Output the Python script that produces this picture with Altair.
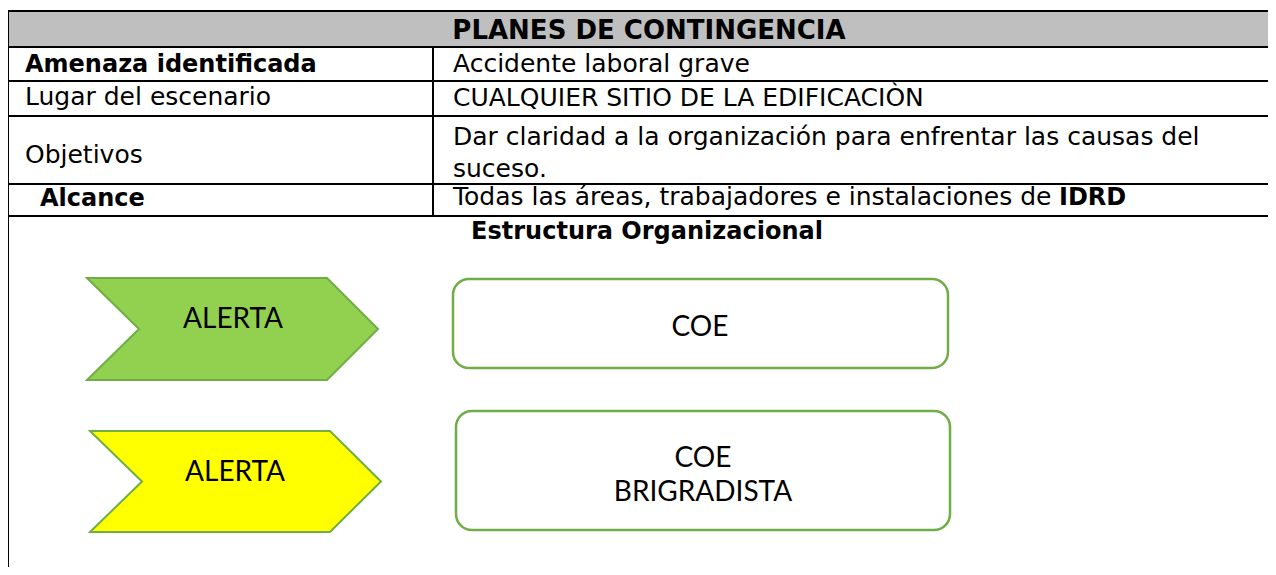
import altair as alt
import pandas as pd

# ---------------- content ----------------
title = "PLANES DE CONTINGENCIA"
row_labels = ["Amenaza identificada", "Lugar del escenario", "Objetivos", "Alcance"]
row_label_bold = [True, False, False, True]
row_values = [
    ["Accidente laboral grave"],
    ["CUALQUIER SITIO DE LA EDIFICACIÒN"],
    ["Dar claridad a la organización para enfrentar las causas del", "suceso."],
    ["Todas las áreas, trabajadores e instalaciones de "],
]
alcance_bold = "IDRD"
section_title = "Estructura Organizacional"
alert_labels = ["ALERTA", "ALERTA"]
alert_colors = ["#92D050", "#FFFF00"]
box_labels = [["COE"], ["COE", "BRIGRADISTA"]]

# ---------------- layout (page pixels) ----------------
W, H = 1260, 559
X0, X1 = 8, 8 + W
Y0, Y1 = 8, 8 + H
left_x = 8
col_x = 433
table_top = 11
row_lines = [47, 81, 116, 184, 216]
label_x = [25, 25, 25, 40]
value_x = 453
label_base = [72, 105, 163, 206]
value_base = [[72], [106], [145, 177], [205]]
idrd_x = 1059

chev_left = [87, 90]
chev_notch = 52
chev_body = 240
chev_tip = 51
chev_top = [278, 431]
chev_bot = [380, 532]
alert_text_x = [233, 235]
alert_text_base = [328, 481]

boxes = [(453, 948, 279, 368), (456, 950, 411, 530)]
box_text_x = [700, 703]
box_text_base = [[336], [467, 501]]

xs = alt.Scale(domain=[X0, X1], range=[0, W])
ys = alt.Scale(domain=[Y0, Y1], range=[0, H])


def X(f="x"):
    return alt.X(f"{f}:Q", scale=xs, axis=None)


def Y(f="y"):
    return alt.Y(f"{f}:Q", scale=ys, axis=None)


layers = []

# header band
hdr = pd.DataFrame({"x": [left_x], "x2": [X1], "y": [table_top], "y2": [row_lines[0]]})
layers.append(alt.Chart(hdr).mark_rect(fill="#BFBFBF").encode(
    x=X(), x2="x2:Q", y=Y(), y2="y2:Q"))

# horizontal rules
hr = pd.DataFrame({"y": [table_top] + row_lines, "x": left_x, "x2": X1})
layers.append(alt.Chart(hr).mark_rule(color="#000000", strokeWidth=2).encode(
    x=X(), x2="x2:Q", y=Y()))

# vertical rules
vr = pd.DataFrame({"x": [left_x, col_x], "y": [table_top, row_lines[0]], "y2": [Y1, row_lines[-1]]})
layers.append(alt.Chart(vr).mark_rule(color="#000000", strokeWidth=2).encode(
    x=X(), y=Y(), y2="y2:Q"))

# title
tdf = pd.DataFrame({"t": [title], "x": [649], "y": [39]})
layers.append(alt.Chart(tdf).mark_text(font="DejaVu Sans", fontSize=26, fontWeight="bold",
                                       align="center", baseline="alphabetic", color="#000").encode(
    x=X(), y=Y(), text="t:N"))

# row labels
bold_rows = [dict(t=l, x=label_x[i], y=label_base[i]) for i, l in enumerate(row_labels) if row_label_bold[i]]
reg_rows = [dict(t=l, x=label_x[i], y=label_base[i]) for i, l in enumerate(row_labels) if not row_label_bold[i]]
for i, vals in enumerate(row_values):
    for j, v in enumerate(vals):
        reg_rows.append(dict(t=v, x=value_x, y=value_base[i][j]))
bold_rows.append(dict(t=alcance_bold, x=idrd_x, y=value_base[3][0]))

layers.append(alt.Chart(pd.DataFrame(bold_rows)).mark_text(
    font="DejaVu Sans", fontSize=24, fontWeight="bold", align="left", baseline="alphabetic", color="#000").encode(
    x=X(), y=Y(), text="t:N"))
layers.append(alt.Chart(pd.DataFrame(reg_rows)).mark_text(
    font="DejaVu Sans", fontSize=25, align="left", baseline="alphabetic", color="#000").encode(
    x=X(), y=Y(), text="t:N"))

# section title
sdf = pd.DataFrame({"t": [section_title], "x": [647], "y": [239]})
layers.append(alt.Chart(sdf).mark_text(font="DejaVu Sans", fontSize=24, fontWeight="bold",
                                       align="center", baseline="alphabetic", color="#000").encode(
    x=X(), y=Y(), text="t:N"))

# chevrons
for k in range(2):
    l = chev_left[k]
    mid = (chev_top[k] + chev_bot[k]) / 2
    cdf = pd.DataFrame({
        "y": [chev_top[k], mid, chev_bot[k]],
        "x": [l, l + chev_notch, l],
        "x2": [l + chev_body, l + chev_body + chev_tip, l + chev_body],
    })
    layers.append(alt.Chart(cdf).mark_area(orient="horizontal", fill=alert_colors[k], stroke="#70AD47",
                                           strokeWidth=2, opacity=1, interpolate="linear").encode(
        y=Y(), x=X(), x2="x2:Q"))

# rounded boxes
bdf = pd.DataFrame([dict(x=b[0], x2=b[1], y=b[2], y2=b[3]) for b in boxes])
layers.append(alt.Chart(bdf).mark_rect(fill="#FFFFFF", stroke="#70AD47", strokeWidth=2.5,
                                       cornerRadius=16).encode(
    x=X(), x2="x2:Q", y=Y(), y2="y2:Q"))

# shape texts
stext = [dict(t=alert_labels[k], x=alert_text_x[k], y=alert_text_base[k]) for k in range(2)]
for k in range(2):
    for j, t in enumerate(box_labels[k]):
        stext.append(dict(t=t, x=box_text_x[k], y=box_text_base[k][j]))
layers.append(alt.Chart(pd.DataFrame(stext)).mark_text(
    font="Lato", fontSize=28, align="center", baseline="alphabetic", color="#000").encode(
    x=X(), y=Y(), text="t:N"))

chart = alt.layer(*layers).properties(
    width=W, height=H, padding=0, autosize=alt.AutoSizeParams(type="none"),
    background="#FFFFFF"
).configure_view(stroke=None)

chart.save("out.html", embed_options={"renderer": "svg", "actions": False})
